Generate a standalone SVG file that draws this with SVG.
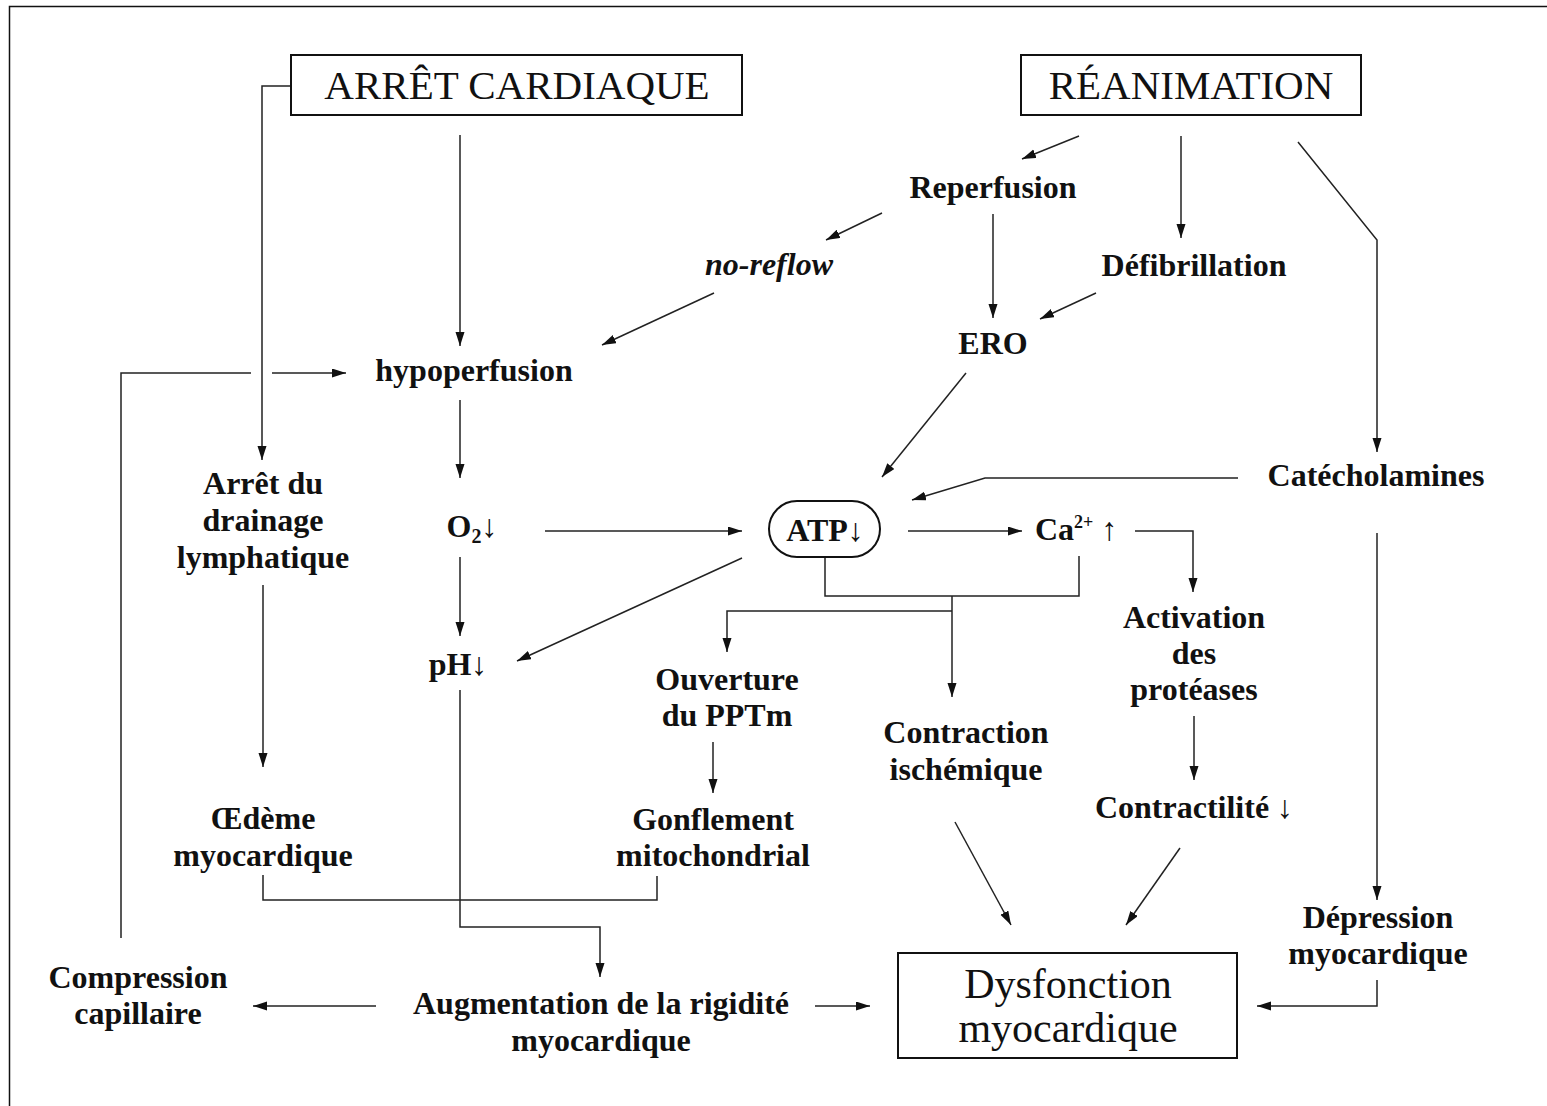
<svg xmlns="http://www.w3.org/2000/svg" width="1547" height="1106" viewBox="0 0 1547 1106">
  <style>
    .t { font-family: "Liberation Serif", "DejaVu Serif", serif; font-size: 32px; font-weight: bold; fill: #111; text-anchor: middle; }
    .t.s { text-anchor: start; }
    .title { font-family: "Liberation Serif", "DejaVu Serif", serif; font-size: 41px; fill: #111; text-anchor: middle; }
    .big { font-family: "Liberation Serif", "DejaVu Serif", serif; font-size: 42px; fill: #111; text-anchor: middle; }
    .box { fill: #fff; stroke: #111; stroke-width: 2; }
    .c { fill: none; stroke: #222; stroke-width: 1.5; }
    .a { marker-end: url(#head); }
  </style>
  <defs>
    <marker id="head" markerUnits="userSpaceOnUse" markerWidth="15" markerHeight="10" refX="14" refY="4.5" orient="auto">
      <path d="M0,0 L14,4.5 L0,9 z" fill="#111"/>
    </marker>
  </defs>

  <rect x="0" y="0" width="1547" height="1106" fill="#fff"/>
  <!-- page frame -->
  <rect x="9.5" y="6.5" width="1580" height="1140" fill="none" stroke="#111" stroke-width="1.5"/>

  <g id="connectors">
    <path class="c a" d="M291,86 H262 V460"/>
    <path class="c a" d="M460,135 V346"/>
    <path class="c a" d="M460,400 V478"/>
    <path class="c a" d="M460,557 V636"/>
    <path class="c a" d="M545,531 H742"/>
    <path class="c a" d="M742,558 L517,661"/>
    <path class="c a" d="M908,531 H1022"/>
    <path class="c a" d="M1135,531 H1193 V592"/>
    <path class="c" d="M825,557 V596 H1079 V556"/>
    <path class="c a" d="M952,596 V697"/>
    <path class="c a" d="M952,611 H727 V652"/>
    <path class="c a" d="M713,742 V793"/>
    <path class="c a" d="M1194,716 V780"/>
    <path class="c a" d="M955,822 L1011,925"/>
    <path class="c a" d="M1180,848 L1126,925"/>
    <path class="c a" d="M1079,136 L1022,159"/>
    <path class="c a" d="M1181,136 V238"/>
    <path class="c a" d="M1298,142 L1377,240 V452"/>
    <path class="c a" d="M882,213 L826,240"/>
    <path class="c a" d="M993,214 V318"/>
    <path class="c a" d="M1096,293 L1040,319"/>
    <path class="c a" d="M714,293 L602,345"/>
    <path class="c a" d="M966,373 L882,477"/>
    <path class="c a" d="M1238,478 H985 L912,500"/>
    <path class="c a" d="M1377,533 V900"/>
    <path class="c a" d="M1377,980 V1006 H1257"/>
    <path class="c a" d="M263,585 V767"/>
    <path class="c" d="M263,875 V900 H657 V876"/>
    <path class="c a" d="M460,690 V927 H600 V977"/>
    <path class="c a" d="M376,1006 H253"/>
    <path class="c a" d="M815,1006 H870"/>
    <path class="c" d="M121,938 V373 H251"/>
    <path class="c a" d="M272,373 H346"/>
  </g>

  <g id="arret-cardiaque">
    <rect class="box" x="291" y="55" width="451" height="60"/>
    <text class="title" x="517" y="99">ARRÊT CARDIAQUE</text>
  </g>
  <g id="reanimation">
    <rect class="box" x="1021" y="55" width="340" height="60"/>
    <text class="title" x="1191" y="99">RÉANIMATION</text>
  </g>
  <g id="reperfusion"><text class="t" x="993" y="198">Reperfusion</text></g>
  <g id="no-reflow"><text class="t" x="769" y="275" font-style="italic">no-reflow</text></g>
  <g id="defibrillation"><text class="t" x="1194" y="276">Défibrillation</text></g>
  <g id="ero"><text class="t" x="993" y="354">ERO</text></g>
  <g id="hypoperfusion"><text class="t" x="474" y="381">hypoperfusion</text></g>
  <g id="arret-drainage">
    <text class="t" x="263" y="494">Arrêt du</text>
    <text class="t" x="263" y="531">drainage</text>
    <text class="t" x="263" y="568">lymphatique</text>
  </g>
  <g id="o2"><text class="t" x="472" y="537">O<tspan font-size="20" dy="6">2</tspan><tspan dy="-6" font-weight="normal">↓</tspan></text></g>
  <g id="atp">
    <rect class="box" x="769" y="501" width="111" height="56" rx="28" ry="28"/>
    <text class="t" x="825" y="541">ATP<tspan font-weight="normal">↓</tspan></text>
  </g>
  <g id="ca"><text class="t s" x="1035" y="540">Ca<tspan font-size="18" dy="-12">2+</tspan><tspan dy="12" font-weight="normal"> ↑</tspan></text></g>
  <g id="catecholamines"><text class="t" x="1376" y="486">Catécholamines</text></g>
  <g id="ph"><text class="t" x="458" y="675">pH<tspan font-weight="normal">↓</tspan></text></g>
  <g id="ouverture-pptm">
    <text class="t" x="727" y="690">Ouverture</text>
    <text class="t" x="727" y="726">du PPTm</text>
  </g>
  <g id="gonflement">
    <text class="t" x="713" y="830">Gonflement</text>
    <text class="t" x="713" y="866">mitochondrial</text>
  </g>
  <g id="activation-proteases">
    <text class="t" x="1194" y="628">Activation</text>
    <text class="t" x="1194" y="664">des</text>
    <text class="t" x="1194" y="700">protéases</text>
  </g>
  <g id="contraction-ischemique">
    <text class="t" x="966" y="743">Contraction</text>
    <text class="t" x="966" y="780">ischémique</text>
  </g>
  <g id="contractilite"><text class="t" x="1194" y="818">Contractilité <tspan font-weight="normal">↓</tspan></text></g>
  <g id="oedeme">
    <text class="t" x="263" y="829">Œdème</text>
    <text class="t" x="263" y="866">myocardique</text>
  </g>
  <g id="depression">
    <text class="t" x="1378" y="928">Dépression</text>
    <text class="t" x="1378" y="964">myocardique</text>
  </g>
  <g id="compression">
    <text class="t" x="138" y="988">Compression</text>
    <text class="t" x="138" y="1024">capillaire</text>
  </g>
  <g id="augmentation-rigidite">
    <text class="t" x="601" y="1014">Augmentation de la rigidité</text>
    <text class="t" x="601" y="1051">myocardique</text>
  </g>
  <g id="dysfonction">
    <rect class="box" x="898" y="953" width="339" height="105"/>
    <text class="big" x="1068" y="998">Dysfonction</text>
    <text class="big" x="1068" y="1042">myocardique</text>
  </g>
</svg>
